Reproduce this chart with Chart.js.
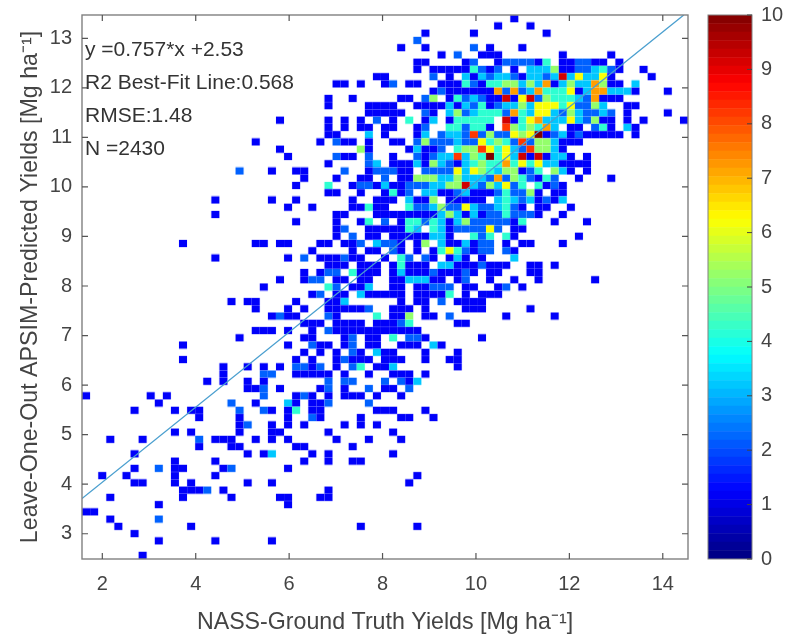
<!DOCTYPE html>
<html>
<head>
<meta charset="utf-8">
<script src="https://cdn.jsdelivr.net/npm/chart.js@4"></script>
<style>
    body { margin: 0; background: #fff; }
    canvas { position: absolute; left: 0; top: 0; filter: blur(0.45px); }
</style>
</head>
<body>
<canvas id="heatChart" width="785" height="637"></canvas>
<canvas id="barChart" width="785" height="637"></canvas>
<script>
// axis limits and the 75x75 histogram grid
const xLimits = [1.565, 14.54];
const yLimits = [2.49, 13.47];
const binCount = 75;
const xTickValues = [2, 4, 6, 8, 10, 12, 14];
const yTickValues = [3, 4, 5, 6, 7, 8, 9, 10, 11, 12, 13];
const barTickValues = [0, 1, 2, 3, 4, 5, 6, 7, 8, 9, 10];
const fitX = [1.565, 14.45];
const fitY = [3.71, 13.47];
const statLines = ['y =0.757*x +2.53', 'R2 Best-Fit Line:0.568', 'RMSE:1.48', 'N =2430'];

// one string per row from the top: "column" means count 1, "column:count" otherwise
const rowCells = [
    '53',
    '51 55',
    '42 48 57',
    '41:2',
    '39 42 48:2 50 54',
    '44 46:2 49 50 51 59 65',
    '41 42 47 48:2 51 52:2 53:2 54:2 55:2 56 57:4 59 60 61:2 62:2 63 64 66',
    '41 43 44 45 46 47 48:4 49:2 50 51:2 53 55:3 56:3 57:3 58:5 59 60 61:2 62:2 63:3 64:4 65:2 66 69',
    '36 37 43:2 45 47:3 48 49:3 50:2 51:3 52:3 53:2 54 55:3 56:3 57:2 58:3 59:9 60:3 61:6 62:3 63:3 64:6 65 70',
    '31 32 34 37 38:2 40 41 44 45 46 47:4 48:2 49 50:4 51:4 52:5 53:5 54:3 55:5 56:3 57:7 58 59:3 60:5 61:3 62:3 63:7 64:5 65 66 68:3',
    '43 44:2 45 46 47 48 49 50 51:7 52:2 53:7 54:2 55:3 56:7 57:4 58:4 59:4 60:6 61 62:3 63:7 64:7 65:3 66:3 67:3 68 72',
    '30 33 39 40 42:2 43:5 45 46:4 47:2 48:3 49:2 50 51 52:9 53 54:6 55:9 56:2 57:5 58:4 59:4 60:4 61:3 62:2 63:7 64 65 66',
    '30 35 36 37 38 41 42 43 44 45:3 46 47:3 48:2 49:4 50 51:2 52:3 53:3 54:5 55:3 56:6 57:6 58:6 59:4 60:6 61:2 62:2 63:5 64:3 67 68',
    '35 36 37 38 39 42:2 43 45:3 46:5 47:2 48:3 49:4 50:4 51:4 52:2 53:7 54:4 55:3 56:6 57:6 58:3 59:2 60:5 61:3 62:2 63:2 64:3 65:2 67 72',
    '24 30 32 34 36:2 38 40:4 42 43:3 45 46:4 47:4 48:4 49:4 50:4 52:9 53 54:4 55:6 56:7 57:3 58:3 59:3 60:6 61:3 62:2 63:5 64 65 67 69 74',
    '30 32 34 35 37 38 41 42:2 45:4 46:4 47:2 48:4 49:4 50 52:8 53:5 54:4 55:5 56:4 57:7 58:3 60 61 63:2 64:4 65 67:3 68',
    '30 31 35:3 37 41 42:3 44:2 45:3 46:3 47:2 48:8 49:2 50:5 51:2 52:2 53:6 54:5 55:6 56:10 57 58:2 59:3 60 61:2 62 63 64 65 66 68',
    '21 29 31:2 32 33 35 38 39 41:2 42:5 43:2 44:2 45:2 46:3 47:2 48:2 49:6 50:4 51:5 52:4 53:2 54:8 55:2 56:5 57:5 58:3 59 60 61',
    '24 34:5 35 40 41:3 42 43 44:2 46:4 47:5 48:5 49:8 50:6 51:4 52:6 53:3 54:2 55:8 56:5 57:5 58:3 59',
    '25 31:2 32 33 35:2 38 41:2 42 43:2 44:3 45:3 46:8 47:3 48:5 49:4 50:10 51:4 52:6 53:3 54:9 55 56:9 57 58:3 59:3 60 62',
    '30 35:2 36:3 38 39 40 41:3 42 43:5 44:3 45:2 46 47:3 48:4 49:5 50:4 51:4 52:7 53:4 54:6 55:4 56:6 57:3 58:3 59 60 61 62',
    '19:2 23 26 27 32:2 35 36:2 37:2 38:2 39 40 42:2 43:2 44:2 45:2 46:6 47:3 48:6 49:5 50:4 51:3 52:5 53:5 54 55:2 56:4 58:5 59:3 60 62',
    '27 31 34 35 37:2 39 40 41:5 42:5 43:5 44:3 45:3 46:5 47:3 48:3 49:3 50:2 51:7 52:2 53:5 54:4 55:2 56 57:4 58:2 61 65',
    '26 30:4 33 34:2 35:2 36 37:3 38 39 40:2 41:2 42:2 43:3 44:3 45:5 46:5 47:9 48:3 49:2 50:5 51:3 52:6 53:2 54:4 56:4 57 58:2 59',
    '30 31 34 37 38:4 39 40:2 42:3 43:3 44 45 46:2 47:3 48 49 50 51:2 52:4 53:2 54:2 55:5 56 58 59',
    '16 23 26 33 36 37 38 40:3 41 42 43:5 45 46 47 48 49 51:3 52:4 53:3 54:2 55:3 56 57:2 58 59:3',
    '25 28 33 34 35:4 36 37 40:4 41:2 42:2 43:3 44:5 45:2 46:2 47:6 48:3 49:2 50:2 51:3 52:4 53:2 54 56 57 60',
    '16 31 32 36 37 38 39 40 41 42 43 44:3 45:5 46:3 47 48:3 49 50:2 51:2 52:4 53:2 54:2 55:2 56 59',
    '26 31 34 35:4 37:2 39 40:4 41:4 42:2 43:4 44:3 45 46:3 47:5 48:2 49:2 50:2 51:2 52:2 53 54:4 58 62',
    '31 32:2 35 36 37 38 39 40:4 41:3 43:4 44:3 45 46:2 47:2 48:2 49:2 50:6 51:2 53 54',
    '31 33:2 35 36 38 39 40 41 42 43:3 44:3 45 48:4 49:2 50:4 52:4 53 61',
    '12 21 22 24 25 29 30 32 33 34:2 36:3 37:2 38:2 39 41 42:5 44:3 45 46 47:3 48 49:2 50:2 52 54 55 59',
    '28 33 35 36 38:2 39 41 43 44:4 45:6 46:4 47:2 48 49:2 50:2 52:2 53',
    '16 25 27:2 29 30 31 32:2 33 34 37 39:4 40:2 42:2 43 45 46:3 47 49 53:3',
    '30 31 32 34 35 36 38 39:4 40 41 42 44:3 45:3 46 47 48 49:2 50 51 52 55 56 58',
    '27 29 30:2 31:2 33:4 34 35 36 38 39:3 40 41 42 43:2 44 45 46 47:2 48 50 51 55 56',
    '24 27 28:2 29:2 31 32 34 35 38 39 40:3 41:3 42:3 43 44 46 47:2 50 53 56 63',
    '22 30:4 31:2 33 34 35:3 38 39 41 42 43:2 44:2 45:2 47 48 51 52:2 54',
    '28 29:2 31 32 34:3 35 36 37 38 39 41 42 43 44 45:4 47 49 50 51',
    '18 20 21 26 30 31 32:3 39 41 42 44:2 46 47 48 49',
    '21 25 27 30 31 32 33 34 35:2 38 39 40 42 47 48 49 55',
    '23 24:2 25 26 30:2 31 36:4 38 39 40:5 42 43 45:2 52 58',
    '27 28 29 31 32 33 34 36 37 38 39:2 40:4 46 47',
    '21 22 23 25 28 30:2 31 32 33 34 35 36 37 38 39 40 41',
    '19 27 28 32 33:2 35 36 38:4 40:2 41:2 42 49',
    '12 25 28:2 29 30 32 33:2 35 36 39 40 41 43:3 44',
    '27 29 31 33:2 34 36:3 37 38 42 46',
    '12 26 28 31 32:2 33 34 35 37 38 39 42 45 46',
    '17 20 22 24 26:2 27:2 28 29:2 31 33:2 34:4 36 37 38:3 46',
    '17 22:2 23:2 26 27 28 29 30 32 35 38 39 40 42',
    '15 17 20 22 30:2 32:2 33:2 37:2 39:2 40 41:3',
    '20 21 22:2 24 29 30:2 32 35:2 37 38 40:2',
    '0 8 10 22:2 26 27:2 28 30 32 33 34 36 39',
    '9 18:2 21 25:3 26 28 29 30:2 35:2',
    '6 11 13 14 19:2 22:2 23 25 26:4 28 29 36 37 38 42',
    '14 19 25 28:2 29 34 39 40 43',
    '19 20:2 23 25 27 32 34 36',
    '11 13 19 23 24 30 38',
    '3 7 14:2 16 17 18 21 23 25 31 35 39',
    '14 18 19 26 27 33',
    '6 20 22 23:3 28 30 38',
    '11 16 27 30 33 34',
    '6 9:2 11 12 17 18:2 25',
    '2 5 11 16 41',
    '6 7 11 13 20 23 40',
    '12 13 14 15:2 17 30',
    '3 12 18 24 25 29 30',
    '9 25',
    '0 1',
    '3 9:2',
    '4 13 34 41',
    '6',
    '9 16 23',
    '',
    '7'
];

// jet colormap, t from 0 to 1
function jetColor(t) {
    const ramp = v => Math.round(255 * Math.max(0, Math.min(1, v)));
    return `rgb(${ramp(1.5 - Math.abs(4 * t - 3))},${ramp(1.5 - Math.abs(4 * t - 2))},${ramp(1.5 - Math.abs(4 * t - 1))})`;
}

const xStep = (xLimits[1] - xLimits[0]) / binCount;
const yStep = (yLimits[1] - yLimits[0]) / binCount;
const cellPoints = [];
const cellCounts = [];
rowCells.forEach((row, r) => {
    row.split(' ').filter(Boolean).forEach(cell => {
        const parts = cell.split(':');
        cellPoints.push({
            x: xLimits[0] + (Number(parts[0]) + 0.5) * xStep,
            y: yLimits[1] - (r + 0.5) * yStep
        });
        cellCounts.push(parts[1] ? Number(parts[1]) : 1);
    });
});

// little canvases used as point styles, one per count
const cellStamps = [];
for (let n = 0; n <= 10; n++) {
    const stamp = document.createElement('canvas');
    stamp.width = 10;
    stamp.height = 9;
    const c = stamp.getContext('2d');
    c.fillStyle = jetColor(n < 10 ? n / 10 + 0.02 : 1);
    c.fillRect(0.96, 0.87, 8.08, 7.26);
    cellStamps.push(stamp);
}

const textColor = '#444';
const axisFont = "'Liberation Sans', Arial, sans-serif";

const frameAndLabels = {
    id: 'frameAndLabels',
    afterDatasetsDraw(chart) {
        const { ctx, chartArea: a, scales } = chart;
        ctx.save();
        ctx.strokeStyle = '#808080';
        ctx.lineWidth = 1.4;
        ctx.strokeRect(a.left, a.top, a.right - a.left, a.bottom - a.top);
        ctx.strokeStyle = '#555';
        ctx.lineWidth = 1.2;
        ctx.beginPath();
        xTickValues.forEach(v => {
            const p = scales.x.getPixelForValue(v);
            ctx.moveTo(p, a.bottom); ctx.lineTo(p, a.bottom - 6);
            ctx.moveTo(p, a.top); ctx.lineTo(p, a.top + 6);
        });
        yTickValues.forEach(v => {
            const p = scales.y.getPixelForValue(v);
            ctx.moveTo(a.left, p); ctx.lineTo(a.left + 6, p);
            ctx.moveTo(a.right, p); ctx.lineTo(a.right - 6, p);
        });
        ctx.stroke();
        ctx.fillStyle = '#333';
        ctx.font = '21px ' + axisFont;
        ctx.textBaseline = 'middle';
        statLines.forEach((line, i) => ctx.fillText(line, 85, 50 + i * 33));
        ctx.restore();
    }
};

new Chart(document.getElementById('heatChart').getContext('2d'), {
    type: 'scatter',
    data: {
        datasets: [
            {
                type: 'line',
                data: fitX.map((x, i) => ({ x: x, y: fitY[i] })),
                borderColor: '#4a9fcf',
                borderWidth: 1.3,
                pointRadius: 0
            },
            {
                data: cellPoints,
                pointRadius: 4,
                pointBorderWidth: 0,
                pointStyle: ctx => cellStamps[cellCounts[ctx.dataIndex]]
            }
        ]
    },
    options: {
        responsive: false,
        animation: false,
        layout: { padding: { top: 15, right: 97 } },
        plugins: { legend: { display: false }, tooltip: { enabled: false } },
        scales: {
            x: {
                type: 'linear',
                min: xLimits[0],
                max: xLimits[1],
                afterBuildTicks: s => { s.ticks = xTickValues.map(v => ({ value: v })); },
                afterFit: s => { s.height = 78; s.paddingLeft = 0; s.paddingRight = 0; },
                grid: { display: false },
                border: { display: false },
                ticks: { color: textColor, padding: 5, maxRotation: 0, font: { size: 20, family: axisFont } },
                title: {
                    display: true,
                    text: 'NASS-Ground Truth Yields [Mg ha⁻¹]',
                    color: textColor,
                    padding: { top: 0, bottom: 0 },
                    font: { size: 23.2, family: axisFont }
                }
            },
            y: {
                type: 'linear',
                min: yLimits[0],
                max: yLimits[1],
                afterBuildTicks: s => { s.ticks = yTickValues.map(v => ({ value: v })); },
                afterFit: s => { s.width = 82; s.paddingTop = 0; s.paddingBottom = 0; },
                grid: { display: false },
                border: { display: false },
                ticks: { color: textColor, padding: 2, font: { size: 20, family: axisFont } },
                title: {
                    display: true,
                    text: 'Leave-One-Out APSIM-Predicted Yields [Mg ha⁻¹]',
                    color: textColor,
                    padding: { top: 17, bottom: 0 },
                    font: { size: 23.2, family: axisFont }
                }
            }
        }
    },
    plugins: [frameAndLabels]
});

// colour bar: 64 stacked levels on a 0-10 axis
const barLevels = [];
for (let i = 0; i < 64; i++) {
    barLevels.push({ data: [10 / 64], backgroundColor: jetColor((i + 0.5) / 64), barPercentage: 1, categoryPercentage: 1 });
}

const barFrame = {
    id: 'barFrame',
    afterDatasetsDraw(chart) {
        const { ctx, chartArea: a, scales } = chart;
        ctx.save();
        ctx.strokeStyle = '#808080';
        ctx.lineWidth = 1;
        ctx.strokeRect(a.left, a.top, a.right - a.left, a.bottom - a.top);
        ctx.strokeStyle = '#444';
        ctx.beginPath();
        barTickValues.forEach(v => {
            const p = scales.y.getPixelForValue(v);
            ctx.moveTo(a.right, p); ctx.lineTo(a.right - 5, p);
        });
        ctx.stroke();
        ctx.restore();
    }
};

new Chart(document.getElementById('barChart').getContext('2d'), {
    type: 'bar',
    data: { labels: [''], datasets: barLevels },
    options: {
        responsive: false,
        animation: false,
        layout: { padding: { top: 15, bottom: 78, left: 708 } },
        plugins: { legend: { display: false }, tooltip: { enabled: false } },
        scales: {
            x: { stacked: true, display: false },
            y: {
                stacked: true,
                position: 'right',
                min: 0,
                max: 10,
                afterBuildTicks: s => { s.ticks = barTickValues.map(v => ({ value: v })); },
                afterFit: s => { s.width = 33; s.paddingTop = 0; s.paddingBottom = 0; },
                grid: { display: false },
                border: { display: false },
                ticks: { color: textColor, padding: 1, font: { size: 20, family: axisFont } }
            }
        }
    },
    plugins: [barFrame]
});
</script>
</body>
</html>
